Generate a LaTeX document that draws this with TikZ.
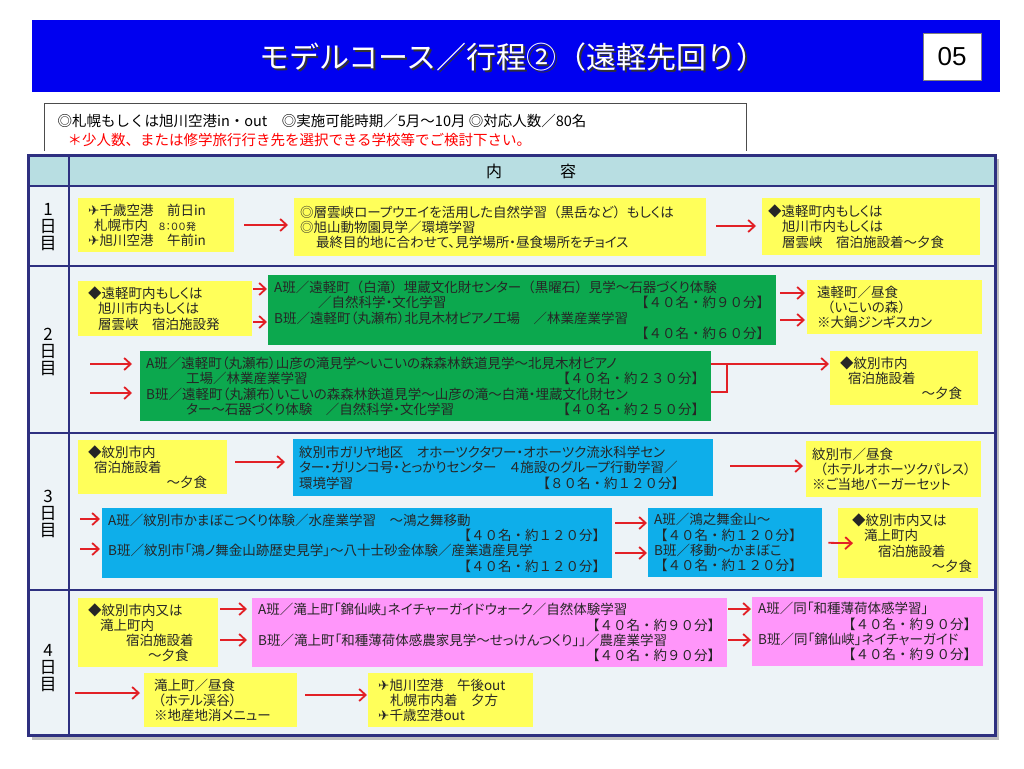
\documentclass[tikz,border=0pt]{standalone}
\usepackage{fontspec}
\setmainfont{Noto Sans CJK JP}[RawFeature=+palt]
\newfontfamily\widefont{Noto Sans CJK JP}
\newfontfamily\planefont{DejaVu Sans}
\newfontfamily\numfont{Liberation Sans}
\usetikzlibrary{arrows.meta}

\definecolor{bannerblue}{RGB}{0,0,240}
\definecolor{navy}{RGB}{46,48,128}
\definecolor{headteal}{RGB}{184,222,226}
\definecolor{rowbg}{RGB}{237,243,247}
\definecolor{yel}{RGB}{255,255,90}
\definecolor{grn}{RGB}{12,168,78}
\definecolor{sky}{RGB}{14,174,234}
\definecolor{pink}{RGB}{255,150,250}
\definecolor{arrred}{RGB}{226,32,38}

\newcommand\boxfont{\fontsize{13.5}{15.3}\selectfont}
\newcommand\plane{{\planefont\char"2708}}
\newcommand\pushr{\hspace*{0pt plus 1fill}}
\newcommand\cnt[1]{{\widefont【#1】}}
\newcommand\lp{{\widefont（}}
\newcommand\rp{{\widefont）}}

\tikzset{
	box/.style 2 args={anchor=north west,inner xsep=6pt,inner ysep=1pt,minimum width=#1pt,minimum height=#2pt,
		/utils/exec={\pgfmathsetlengthmacro\boxtw{#1pt-12pt}},text width=\boxtw,align=left,font=\boxfont,text=black!85},
	ybox/.style 2 args={box={#1}{#2},fill=yel},
	gbox/.style 2 args={box={#1}{#2},fill=grn},
	bbox/.style 2 args={box={#1}{#2},fill=sky},
	pbox/.style 2 args={box={#1}{#2},fill=pink},
	go/.style={draw=arrred,line width=1.8pt,-{Straight Barb[length=6.5pt,width=12pt]}},
	link/.style={draw=arrred,line width=1.8pt},
	daylabel/.style={align=center,font=\fontsize{17}{17}\selectfont}
}

\begin{document}
\begin{tikzpicture}[x=1pt,y=-1pt]
\useasboundingbox[fill=white] (0,0) rectangle (1024,768);

% title bar
\fill[bannerblue] (32,20) rectangle (1000,92);
\node[font=\widefont\fontsize{30}{30}\selectfont,text=black!80] (titleshadow) at (515,59) {モデルコース／行程②（遠軽先回り）};
\node[font=\widefont\fontsize{30}{30}\selectfont,text=white] (title) at (513,57) {モデルコース／行程②（遠軽先回り）};
\node[fill=white,draw=gray,minimum width=58pt,minimum height=47pt,font=\numfont\fontsize{26}{26}\selectfont] (pageno) at (952,57) {05};

% conditions
\draw[black!70,line width=0.8pt] (44,151) |- (746,103) -- (746,151);
\node[anchor=west,font=\widefont\fontsize{14.5}{14.5}\selectfont] (cond) at (54,121) {◎札幌もしくは旭川空港in・out　◎実施可能時期／5月～10月 ◎対応人数／80名};
\node[anchor=west,font=\widefont\fontsize{14.5}{14.5}\selectfont,text=red] (note) at (64,140) {＊少人数、または修学旅行行き先を選択できる学校等でご検討下さい。};

% table
\fill[black!25] (32,159) rectangle (999,740);
\fill[rowbg] (28,155) rectangle (995,735);
\fill[headteal] (28,155) rectangle (995,186);
\draw[navy,line width=2.5pt] (28,186) -- (995,186) (28,266) -- (995,266) (28,433) -- (995,433) (28,590) -- (995,590);
\draw[navy,line width=2.5pt] (69,155) -- (69,735);
\draw[navy,line width=3pt] (28,155) rectangle (995,735);
\node[font=\fontsize{16}{16}\selectfont] (head) at (531,171) {内\hspace{58pt}容};
\node[daylabel] (day1) at (48,227) {1\\日\\目};
\node[daylabel] (day2) at (48,352) {2\\日\\目};
\node[daylabel] (day3) at (48,514) {3\\日\\目};
\node[daylabel] (day4) at (48,668) {4\\日\\目};

% day 1
\node[ybox={156}{54}] (Y1a) at (78,198) {\hspace*{4pt}\plane 千歳空港　前日in\\\hspace*{10pt}札幌市内\hspace{10pt}{\fontsize{10}{10}\selectfont ８：００発}\\\hspace*{4pt}\plane 旭川空港　午前in};
\node[ybox={412}{58}] (Y1b) at (294,198) {◎層雲峡ロープウエイを活用した自然学習\lp 黒岳など\rp もしくは\\◎旭山動物園見学／環境学習\\\hspace*{16pt}最終目的地に合わせて、見学場所・昼食場所をチョイス};
\node[ybox={218}{57}] (Y1c) at (762,198) {◆遠軽町内もしくは\\\hspace*{14pt}旭川市内もしくは\\\hspace*{14pt}層雲峡　宿泊施設着～夕食};
\draw[go,shorten <=10pt,shorten >=6pt] (Y1a.east |- 0,225) -- (Y1b.west |- 0,225);
\draw[go,shorten <=10pt,shorten >=6pt] (Y1b.east |- 0,226) -- (Y1c.west |- 0,226);

% day 2
\node[ybox={174}{55}] (Y2a) at (78,281) {\hspace*{4pt}◆遠軽町内もしくは\\\hspace*{14pt}旭川市内もしくは\\\hspace*{14pt}層雲峡　宿泊施設発};
\node[gbox={508}{70}] (G2a) at (268,275) {A班／遠軽町\lp 白滝\rp 埋蔵文化財センター\lp 黒曜石\rp 見学～石器づくり体験\\\hspace*{44pt}／自然科学・文化学習\pushr\cnt{４０名・約９０分}\\B班／遠軽町（丸瀬布）北見木材ピアノ工場　／林業産業学習\\\pushr\cnt{４０名・約６０分}};
\node[ybox={175}{54}] (Y2b) at (807,280) {\hspace*{4pt}遠軽町／昼食\\\hspace*{8pt}\lp いこいの森\rp\\\hspace*{4pt}※大鍋ジンギスカン};
\node[gbox={571}{70}] (G2b) at (140,351) {A班／遠軽町（丸瀬布）山彦の滝見学～いこいの森森林鉄道見学～北見木材ピアノ\\\hspace*{40pt}工場／林業産業学習\pushr\cnt{４０名・約２３０分}\\B班／遠軽町（丸瀬布）いこいの森森林鉄道見学～山彦の滝～白滝・埋蔵文化財セン\\\hspace*{40pt}ター～石器づくり体験　／自然科学・文化学習\pushr\cnt{４０名・約２５０分}};
\node[ybox={148}{54}] (Y2c) at (830,351) {\hspace*{4pt}◆紋別市内\\\hspace*{12pt}宿泊施設着\\\pushr～夕食\hspace*{10pt}};
\coordinate (s2a) at (90,364);
\coordinate (s2b) at (90,393);
\coordinate (j2) at (727,364);
\draw[go,shorten <=1pt,shorten >=1pt] (Y2a.east |- 0,289) -- (G2a.west |- 0,289);
\draw[go,shorten <=1pt,shorten >=1pt] (Y2a.east |- 0,322) -- (G2a.west |- 0,322);
\draw[go,shorten <=4pt,shorten >=2pt] (G2a.east |- 0,293) -- (Y2b.west |- 0,293);
\draw[go,shorten <=4pt,shorten >=2pt] (G2a.east |- 0,320) -- (Y2b.west |- 0,320);
\draw[go,shorten >=8pt] (s2a) -- (G2b.west |- s2a);
\draw[go,shorten >=8pt] (s2b) -- (G2b.west |- s2b);
\draw[link] (G2b.east |- 0,392) -| (j2);
\draw[go,shorten >=1pt] (G2b.east |- j2) -- (Y2c.west |- j2);

% day 3
\node[ybox={149}{54}] (Y3a) at (78,440) {\hspace*{4pt}◆紋別市内\\\hspace*{10pt}宿泊施設着\\\pushr～夕食\hspace*{14pt}};
\node[bbox={420}{57}] (B3a) at (293,439) {紋別市ガリヤ地区　オホーツクタワー・オホーツク流氷科学セン\\ター・ガリンコ号・とっかりセンター　４施設のグループ行動学習／\\環境学習\pushr\cnt{８０名・約１２０分}\hspace*{22pt}};
\node[ybox={175}{56}] (Y3b) at (806,441) {紋別市／昼食\\\hspace*{8pt}（ホテルオホーツクパレス）\\※ご当地バーガーセット};
\node[bbox={510}{70}] (B3b) at (102,508) {A班／紋別市かまぼこつくり体験／水産業学習　～鴻之舞移動\\\pushr\cnt{４０名・約１２０分}\\B班／紋別市「鴻ノ舞金山跡歴史見学」～八十士砂金体験／産業遺産見学\\\pushr\cnt{４０名・約１２０分}};
\node[bbox={174}{69}] (B3c) at (648,508) {A班／鴻之舞金山～\\\cnt{４０名・約１２０分}\\B班／移動～かまぼこ\\\cnt{４０名・約１２０分}};
\node[ybox={140}{70}] (Y3c) at (838,508) {\hspace*{8pt}◆紋別市内又は\\\hspace*{20pt}滝上町内\\\hspace*{34pt}宿泊施設着\\\pushr～夕食};
\coordinate (s3a) at (80,519);
\coordinate (s3b) at (80,549);
\draw[go,shorten <=8pt,shorten >=8pt] (Y3a.east |- 0,462) -- (B3a.west |- 0,462);
\draw[go,shorten <=17pt,shorten >=3pt] (B3a.east |- 0,466) -- (Y3b.west |- 0,466);
\draw[go,shorten >=2pt] (s3a) -- (B3b.west |- s3a);
\draw[go,shorten >=2pt] (s3b) -- (B3b.west |- s3b);
\draw[go,shorten <=3pt,shorten >=1pt] (B3b.east |- 0,523) -- (B3c.west |- 0,523);
\draw[go,shorten <=3pt,shorten >=1pt] (B3b.east |- 0,553) -- (B3c.west |- 0,553);
\draw[go,shorten <=6pt] (B3c.east) -- ([xshift=15pt]Y3c.west);

% day 4
\node[ybox={140}{69}] (Y4a) at (78,598) {\hspace*{4pt}◆紋別市内又は\\\hspace*{16pt}滝上町内\\\hspace*{42pt}宿泊施設着\\\hspace*{64pt}～夕食};
\node[pbox={475}{69}] (M4a) at (252,598) {A班／滝上町「錦仙峡」ネイチャーガイドウォーク／自然体験学習\\\pushr\cnt{４０名・約９０分}\\B班／滝上町「和種薄荷体感農家見学～せっけんつくり」」／農産業学習\\\pushr\cnt{４０名・約９０分}};
\node[pbox={231}{69}] (M4b) at (752,597) {A班／同「和種薄荷体感学習」\\\pushr\cnt{４０名・約９０分}\\B班／同「錦仙峡」ネイチャーガイド\\\pushr\cnt{４０名・約９０分}};
\node[ybox={153}{54}] (Y4b) at (144,673) {\hspace*{4pt}滝上町／昼食\\\hspace*{8pt}（ホテル渓谷）\\\hspace*{4pt}※地産地消メニュー};
\node[ybox={165}{54}] (Y4c) at (368,673) {\hspace*{4pt}\plane 旭川空港　午後out\\\hspace*{16pt}札幌市内着　夕方\\\hspace*{4pt}\plane 千歳空港out};
\coordinate (s4) at (75,693);
\draw[go,shorten <=2pt,shorten >=5pt] (Y4a.east |- 0,609) -- (M4a.west |- 0,609);
\draw[go,shorten <=2pt,shorten >=5pt] (Y4a.east |- 0,640) -- (M4a.west |- 0,640);
\draw[go,shorten <=1pt,shorten >=1pt] (M4a.east |- 0,609) -- (M4b.west |- 0,609);
\draw[go,shorten <=1pt,shorten >=1pt] (M4a.east |- 0,640) -- (M4b.west |- 0,640);
\draw[go,shorten >=4pt] (s4) -- (Y4b.west |- s4);
\draw[go,shorten <=8pt,shorten >=1pt] (Y4b.east |- 0,695) -- (Y4c.west |- 0,695);
\end{tikzpicture}
\end{document}
